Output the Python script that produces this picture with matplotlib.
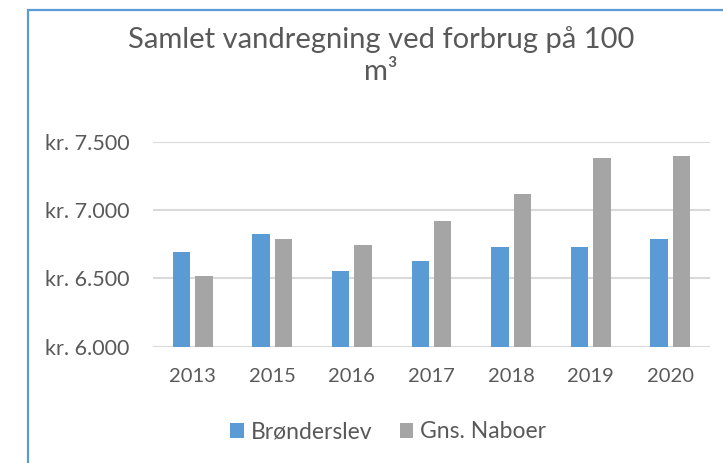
import matplotlib
matplotlib.use("Agg")
import matplotlib.pyplot as plt
import numpy as np
from matplotlib.patches import Rectangle

#------ DATA ------#
years = ["2013", "2015", "2016", "2017", "2018", "2019", "2020"]
bronderslev = [6690, 6822, 6554, 6629, 6731, 6731, 6788]
naboer = [6517, 6788, 6742, 6919, 7119, 7383, 7397]
yticks = [6000, 6500, 7000, 7500]
ylabels = ["kr. 6.000", "kr. 6.500", "kr. 7.000", "kr. 7.500"]

plt.rcParams['font.family'] = ['Lato', 'DejaVu Sans']
txt = "#595959"

fig = plt.figure(figsize=(7.23, 4.63), dpi=100)
ax = fig.add_axes([153/723, 1 - 346.7/463, (710 - 153)/723, (346.7 - 141.7)/463])

x = np.arange(len(years))
w = 0.22
ax.bar(x - 0.141, np.array(bronderslev) - 6000, w, bottom=6000, color="#5B9BD5", label="Brønderslev", zorder=3)
ax.bar(x + 0.141, np.array(naboer) - 6000, w, bottom=6000, color="#A5A5A5", label="Gns. Naboer", zorder=3)

ax.set_xlim(-0.5, len(years) - 0.5)
ax.set_ylim(6000, 7500)
ax.set_yticks(yticks)
ax.set_yticklabels(ylabels)
ax.set_xticks(x)
ax.set_xticklabels(years)
ax.tick_params(length=0, colors=txt)
ax.tick_params(axis="y", pad=17, labelsize=15.5)
ax.tick_params(axis="x", pad=15, labelsize=14.5)
ax.grid(axis="y", color="#D9D9D9", linewidth=1.5, zorder=0)
ax.set_axisbelow(True)
for s in ax.spines.values():
    s.set_visible(False)

# title, centred on the chart box (its right edge is cut off)
fig.text(381/723, 1 - 40/463, "Samlet vandregning ved forbrug på 100", ha="center", va="center", fontsize=21, color=txt)
fig.text(381/723, 1 - 72/463, "m³", ha="center", va="center", fontsize=21, color=txt)

fig.legend(loc="center", bbox_to_anchor=(388/723, 1 - 432/463), ncol=2, frameon=False,
           fontsize=16.5, labelcolor=txt, handlelength=0.6, handleheight=0.6,
           handletextpad=0.3, columnspacing=1.2)

# outer chart border
fig.patches.append(Rectangle((28/723, -0.1), 1.2, 1.1 - 10.5/463, transform=fig.transFigure,
                             fill=False, edgecolor="#5B9BD5", linewidth=1.6))

plt.savefig("out.png", dpi=100)
